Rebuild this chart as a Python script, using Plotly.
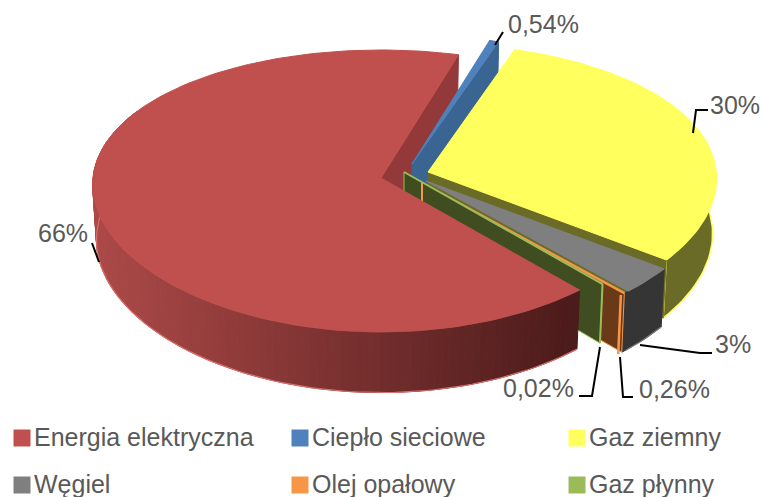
import math
import plotly.graph_objects as go

names = ["Energia elektryczna", "Ciepło sieciowe", "Gaz ziemny", "Węgiel", "Olej opałowy", "Gaz płynny"]
shares = [66, 0.54, 30, 3, 0.26, 0.02]
labels = ["66%", "0,54%", "30%", "3%", "0,26%", "0,02%"]
colors = ["#C0504D", "#4F81BD", "#FFFF5E", "#7F7F7F", "#F79646", "#9BBB59"]
wall_colors = ["#8F3A38", "#3A6491", "#6B6B28", "#353535", "#6A3A18", "#3F4D20"]
apex = [(381, 178), (412, 164), (428, 172), (426, 181), (422, 183), (404, 172)]
label_pos = [(63, 233), (543, 24), (735, 105), (733, 344), (674, 389), (538, 388)]
leaders = [[(92, 243), (99, 262)],
           [(503, 32), (495, 45)],
           [(708, 110), (696, 110), (693, 133)],
           [(712, 353), (700, 353), (640, 345)],
           [(633, 397), (623, 397), (620, 357)],
           [(579, 396), (592, 396), (600, 347)]]
legend_pos = [(22, 438), (300, 438), (577, 438), (22, 485), (300, 485), (577, 485)]

START = 138.3
RX, RY, AX, AY, DEPTH, SHRINK = 288, 139.8, 0.047, 0.092, 55, 0.987

total = sum(shares)
spans = []
a = START
for v in shares:
    b = a + v / total * 360
    spans.append((a, b))
    a = b
# the first slice runs past the top; the rest continue clockwise from there
spans = [spans[0]] + [(s - 360, e - 360) for s, e in spans[1:]]


def top(i, th, r=1.0):
    t = math.radians(th)
    u, v = r * math.sin(t), r * math.cos(t)
    cx, cy = apex[i]
    return cx + RX * u / (1 + AX * v), cy - RY * v / (1 + AY * v)


def bottom(i, th, r=1.0):
    t = math.radians(th)
    v = r * math.cos(t)
    x, y = top(i, th, r)
    cx, _ = apex[i]
    return cx + (x - cx) * SHRINK, y + DEPTH / (1 + AY * v)


def arc(a0, a1):
    n = max(2, int(abs(a1 - a0) / 1.5) + 1)
    return [a0 + (a1 - a0) * k / n for k in range(n + 1)]


fig = go.Figure()


def poly(pts, fill, line=None, width=1.0):
    fig.add_trace(go.Scatter(x=[p[0] for p in pts] + [pts[0][0]], y=[p[1] for p in pts] + [pts[0][1]],
                             mode="lines", fill="toself", fillcolor=fill,
                             line=dict(color=line or fill, width=width), hoverinfo="skip"))


def path(pts, col, width=1.5):
    fig.add_trace(go.Scatter(x=[p[0] for p in pts], y=[p[1] for p in pts], mode="lines",
                             line=dict(color=col, width=width), hoverinfo="skip"))


def cut(i, th, fill, line=None):
    poly([top(i, th, 0), top(i, th, 1), bottom(i, th, 1), bottom(i, th, 0)], fill, line)


def top_face(i):
    s, e = spans[i]
    return [top(i, s, 0)] + [top(i, t) for t in arc(s, e)]


def mix(c0, c1, f):
    return "rgb(%d,%d,%d)" % tuple(c0[k] + (c1[k] - c0[k]) * f for k in range(3))


def outer(i):
    s, e = spans[i]
    return [top(i, t) for t in arc(s, e)] + [bottom(i, t) for t in reversed(arc(s, e))]


# red inner cut wall first, everything exploded sits on it
cut(0, spans[0][1], "#93393A")

# blue
poly(outer(1), wall_colors[1])
cut(1, spans[1][1], wall_colors[1])
poly(top_face(1), colors[1])

# yellow
poly(outer(2), wall_colors[2], colors[2], 1.5)
cut(2, spans[2][1], wall_colors[2])
poly(top_face(2), colors[2])

# gray: wall slightly widened so it meets the orange edge
gray_s, gray_e = spans[3]
gray_wall = [top(3, t) for t in arc(gray_s, gray_e + 1)] + [bottom(3, t) for t in reversed(arc(gray_s, gray_e + 1))]
poly(gray_wall, wall_colors[3], wall_colors[3], 1)
path([bottom(3, t) for t in arc(gray_s, gray_e)], colors[3], 1.2)
poly(top_face(3), colors[3], colors[3])

# orange
cut(4, spans[4][0], wall_colors[4], colors[4])
path([top(4, spans[4][0], 0), top(4, spans[4][0])], colors[4], 2.5)
path([top(4, spans[4][1]), bottom(4, spans[4][1])], colors[4], 2.5)

# green
cut(5, spans[5][1], wall_colors[5], colors[5])
path([top(5, spans[5][1], 0), top(5, spans[5][1])], colors[5], 2)
path([top(5, spans[5][1]), bottom(5, spans[5][1])], colors[5], 2)
path([top(4, spans[4][0], 0), bottom(4, spans[4][0], 0)], colors[4], 2)

# red outer wall with a shading gradient, then its top
s0, e0 = spans[0]
steps = arc(s0, min(e0, 300))
dark, light = (76, 27, 27), (172, 74, 72)
for t0, t1 in zip(steps[:-1], steps[1:]):
    x0 = top(0, t0)[0]
    f = min(1, max(0, (577 - x0) / 480))
    col = mix(dark, light, f)
    poly([top(0, t0), top(0, t1), bottom(0, t1), bottom(0, t0)], col, col, 1)
path([bottom(0, t) for t in steps], "#D9706D", 1.2)
poly(top_face(0), colors[0])

# leader lines
for pts in leaders:
    path(pts, "#000000", 2)

# slice labels
anns = []
for txt, (x, y) in zip(labels, label_pos):
    anns.append(dict(x=x, y=y, text=txt, showarrow=False, xanchor="center", yanchor="middle",
                     font=dict(family="Liberation Sans", size=25, color="#595959")))

# legend
for name, col, (x, y) in zip(names, colors, legend_pos):
    fig.add_trace(go.Scatter(x=[x], y=[y], mode="markers", hoverinfo="skip",
                             marker=dict(symbol="square", size=17, color=col, line=dict(width=0))))
    anns.append(dict(x=x + 10, y=y - 1, text=name, showarrow=False, xanchor="left", yanchor="middle",
                     font=dict(family="Liberation Sans", size=25, color="#595959")))

fig.update_layout(width=761, height=497, margin=dict(l=0, r=0, t=0, b=0), showlegend=False,
                  paper_bgcolor="#FFFFFF", plot_bgcolor="#FFFFFF", annotations=anns,
                  xaxis=dict(range=[0, 761], visible=False, fixedrange=True),
                  yaxis=dict(range=[497, 0], visible=False, fixedrange=True))
fig.write_html("out.html", config=dict(displayModeBar=False),
               post_script="document.body.style.margin='0';document.body.style.overflow='hidden';")
